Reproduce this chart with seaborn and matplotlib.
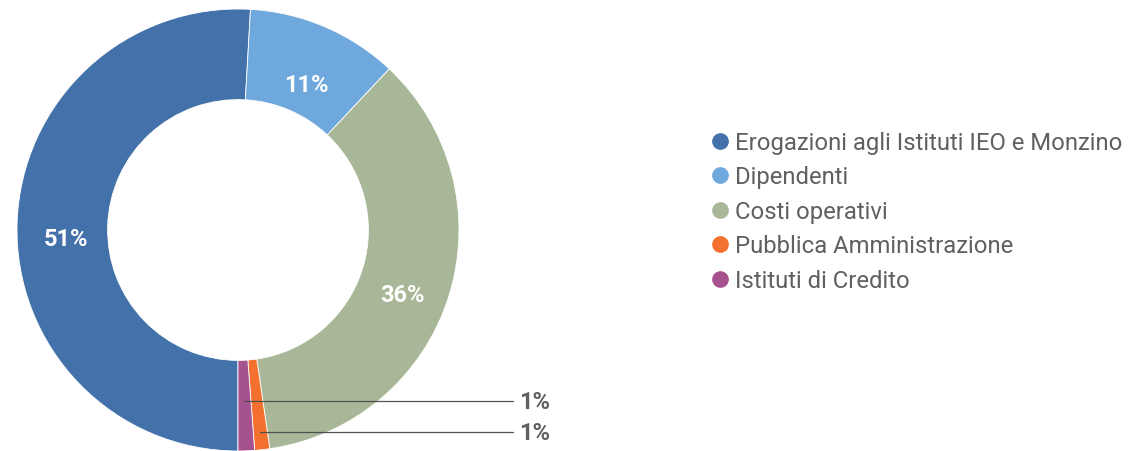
import matplotlib
matplotlib.use("Agg")
import matplotlib.pyplot as plt
import seaborn as sns
import numpy as np
from matplotlib.lines import Line2D

# ---- data ----
categories = ["Erogazioni agli Istituti IEO e Monzino", "Dipendenti", "Costi operativi",
              "Pubblica Amministrazione", "Istituti di Credito"]
values = [50.9, 11.1, 35.7, 1.1, 1.2]
colors = ["#4371aa", "#6fa8dc", "#a8b797", "#f4702e", "#a6528f"]

sns.set_theme(style="white")
plt.rcParams["font.family"] = ["Roboto", "DejaVu Sans"]

W, H = 1129, 452
fig = plt.figure(figsize=(W / 100, H / 100), dpi=100)
cx, cy, R = 238, 231, 221
ax = fig.add_axes([(cx - R) / W, (H - cy - R) / H, 2 * R / W, 2 * R / H])

wedges, _ = ax.pie(values, colors=colors, startangle=270, counterclock=False, radius=1,
                   wedgeprops=dict(width=0.41, edgecolor="white", linewidth=0.6))
ax.set_xlim(-1, 1)
ax.set_ylim(-1, 1)
ax.set_aspect("equal")
ax.axis("off")

total = sum(values)
label_col = "#606060"
small_radius = {3: 0.92, 4: 0.775}
for i, (w, v) in enumerate(zip(wedges, values)):
    pct = f"{round(v / total * 100):.0f}%"
    mid = np.deg2rad((w.theta1 + w.theta2) / 2)
    if v / total > 0.05:
        r = 0.78
        ax.text(r * np.cos(mid), r * np.sin(mid) - 0.06, pct, ha="center", va="center",
                color="white", fontsize=17, fontweight="bold")
    else:
        r = small_radius[i]
        x0, y0 = r * np.cos(mid), r * np.sin(mid)
        ax.plot([x0, 1.244], [y0, y0], color="#505050", lw=0.9, clip_on=False)
        ax.text(1.27, y0, pct, ha="left", va="center", color=label_col,
                fontsize=17, fontweight="bold", clip_on=False)

handles = [Line2D([], [], marker="o", linestyle="none", markersize=11,
                  markerfacecolor=c, markeredgecolor=c) for c in colors]
leg = fig.legend(handles, categories, loc="upper left",
                 bbox_to_anchor=(710 / W, 1 - 132 / H), frameon=False,
                 fontsize=17.2, labelspacing=0.48, handlelength=0.8,
                 handletextpad=0.25, borderpad=0, borderaxespad=0)
for t in leg.get_texts():
    t.set_color(label_col)

fig.savefig("out.png", dpi=100)
